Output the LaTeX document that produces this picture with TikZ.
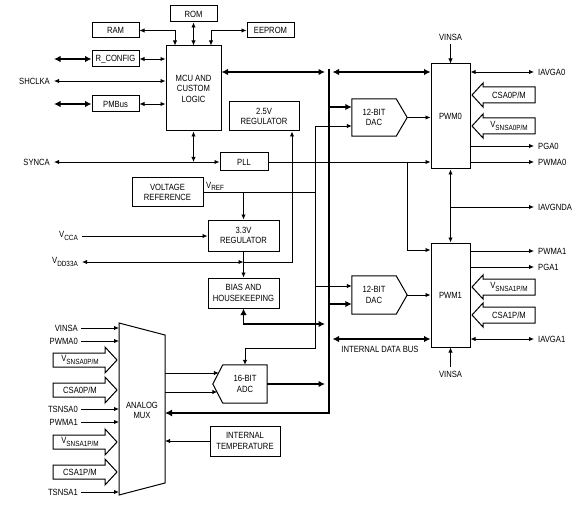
\documentclass[tikz,border=0pt]{standalone}
\usepackage{fontspec}
\setmainfont{Liberation Sans}[FakeStretch=0.85]
\usetikzlibrary{arrows.meta,calc}
\newcommand\dfont{\fontsize{9pt}{10.5pt}\selectfont}
\newcommand\sbs[1]{\raisebox{-0.45ex}{\fontsize{7.5pt}{8pt}\selectfont #1}}
\tikzset{
  x=1pt,y=-1pt,
  thinl/.style={line width=0.9pt},
  thickl/.style={line width=1.8pt},
  ar/.style={thinl,-{Latex[length=5pt,width=4.5pt]}},
  dar/.style={thinl,{Latex[length=5pt,width=4.5pt]}-{Latex[length=5pt,width=4.5pt]}},
  tar/.style={thickl,-{Latex[length=6.5pt,width=6.5pt]}},
  tdar/.style={thickl,{Latex[length=6.5pt,width=6.5pt]}-{Latex[length=6.5pt,width=6.5pt]}},
  box/.style={draw,line width=1pt,inner sep=0pt,align=center,font=\dfont},
  lbl/.style={inner sep=0pt,font=\dfont,align=center},
}
\newcommand\hollowL[3]{%
  \draw[line width=1pt,fill=white] (535,#1-8) -- (483,#1-8) -- (483,#1-12) -- (472,#1) -- (483,#1+12) -- (483,#1+8) -- (535,#1+8) -- cycle;
  \node[lbl] (#2) at (509,#1) {#3};}
\newcommand\hollowR[3]{%
  \draw[line width=1pt,fill=white] (53,#1-7) -- (105,#1-7) -- (105,#1-13) -- (117,#1) -- (105,#1+13) -- (105,#1+7) -- (53,#1+7) -- cycle;
  \node[lbl] (#2) at (80,#1) {#3};}
\begin{document}
\begin{tikzpicture}
\useasboundingbox (0,0) rectangle (586,505);
% ---------- boxes ----------
\node[box,minimum width=47pt,minimum height=16pt] (rom) at (193.5,14) {ROM};
\node[box,minimum width=47pt,minimum height=15pt] (ram) at (115.5,30.5) {RAM};
\node[box,minimum width=47pt,minimum height=15pt] (eeprom) at (270.5,30.5) {EEPROM};
\node[box,minimum width=47pt,minimum height=16pt] (rcfg) at (115.5,59) {R\_CONFIG};
\node[box,minimum width=47pt,minimum height=16pt] (pmbus) at (115.5,104) {PMBus};
\node[box,minimum width=55pt,minimum height=85pt] (mcu) at (193.5,88.5) {MCU AND\\CUSTOM\\LOGIC};
\node[box,minimum width=70pt,minimum height=29pt] (reg25) at (264,116.5) {2.5V\\REGULATOR};
\node[box,minimum width=48pt,minimum height=18pt] (pll) at (244,162) {PLL};
\node[box,minimum width=71pt,minimum height=29pt] (vref) at (167.5,192.5) {VOLTAGE\\REFERENCE};
\node[box,minimum width=71pt,minimum height=31pt] (reg33) at (243.5,235.5) {3.3V\\REGULATOR};
\node[box,minimum width=71pt,minimum height=30pt] (bias) at (243.5,293) {BIAS AND\\HOUSEKEEPING};
\node[box,minimum width=70pt,minimum height=30pt] (temp) at (245,441) {INTERNAL\\TEMPERATURE};
\node[box,minimum width=39pt,minimum height=105pt] (pwm0) at (450.5,116.5) {PWM0};
\node[box,minimum width=39pt,minimum height=104pt] (pwm1) at (450.5,295) {PWM1};
% DACs and ADC
\node[lbl,minimum width=44pt,minimum height=37pt] (dac0) at (374,117.5) {12-BIT\\DAC};
\draw[line width=1pt] (dac0.north west) -- (dac0.north east) -- ($(dac0.east)+(11,0)$) coordinate (dac0tip) -- (dac0.south east) -- (dac0.south west) -- cycle;
\node[lbl,minimum width=44pt,minimum height=38pt] (dac1) at (374,295) {12-BIT\\DAC};
\draw[line width=1pt] (dac1.north west) -- (dac1.north east) -- ($(dac1.east)+(11,0)$) coordinate (dac1tip) -- (dac1.south east) -- (dac1.south west) -- cycle;
\node[lbl,minimum width=44pt,minimum height=38pt] (adc) at (245,384) {16-BIT\\ADC};
\draw[line width=1pt] (adc.north west) -- (adc.north east) -- (adc.south east) -- (adc.south west) -- ($(adc.west)+(-10,0)$) coordinate (adcnotch) -- cycle;
% analog mux
\draw[line width=1pt] (119,323) coordinate (muxTL) -- (165,335) coordinate (muxTR) -- (165,483) coordinate (muxBR) -- (119,495) coordinate (muxBL) -- cycle;
\node[lbl] (mux) at (142,410.5) {ANALOG\\MUX};
\coordinate (muxR) at (165,410);
\coordinate (muxL) at (119,410);
% ---------- MCU periphery ----------
\draw[dar] (ram.east) -| (175,0 |- mcu.north);
\draw[dar] (rom.south) -- (mcu.north);
\draw[dar] (eeprom.west) -| (211,0 |- mcu.north);
\coordinate (rcfgL) at (54,59);
\coordinate (pmbL) at (54,104);
\draw[tdar] (rcfgL) -- (rcfg.west);
\draw[dar] (rcfg.east) -- (mcu.west |- rcfg.east);
\node[lbl,anchor=east] (shclka) at (50,81) {SHCLKA};
\draw[dar] ([xshift=4pt]shclka.east) -- (mcu.west |- shclka.east);
\draw[tdar] (pmbL) -- (pmbus.west);
\draw[dar] (pmbus.east) -- (mcu.west |- pmbus.east);
% ---------- bus ----------
\coordinate (busT) at (329,69);
\coordinate (busB) at (329,413);
\draw[line width=2.4pt,-{Latex[length=7pt,width=7pt]}] (busT) -- (busB) -- (muxR |- busB);
\draw[tdar] (mcu.east |- 0,72) -- (325,72);
\draw[tdar] (332.5,72) -- (pwm0.west |- 0,72);
\draw[tar] (330,107) -- (dac0.west |- 0,107);
\draw[tar] (330,304) -- (dac1.west |- 0,304);
\draw[tdar] (332.5,339) -- (pwm1.west |- 0,339);
\node[lbl] (idb) at (380,349) {INTERNAL DATA BUS};
% ---------- clock ----------
\node[lbl,anchor=east] (synca) at (50,162) {SYNCA};
\draw[dar] ([xshift=4pt]synca.east) -- (pll.west);
\draw[dar] (mcu.south) -- (mcu.south |- pll.west);
\draw[ar] (pll.east) -- (pwm0.west |- pll.east);
\draw[ar] (407,162) -- (407,250) -- (pwm1.west |- 0,250);
% ---------- reference ----------
\node[lbl,anchor=south west] (vreflbl) at (206,190.5) {V\sbs{REF}};
\draw[thinl] (vref.east) -- (315,192.5);
\draw[ar] (reg33.north |- vref.east) -- (reg33.north);
\draw[ar] (315,192.5) -- (315,126) -- (dac0.west |- 0,126);
\draw[ar] (315,192.5) -- (315,286) -- (dac1.west |- 0,286);
\draw[ar] (315,286) -- (315,348) -- (adc.north |- 0,348) -- (adc.north);
% ---------- power ----------
\node[lbl,anchor=east] (vcca) at (78,236) {V\sbs{CCA}};
\draw[ar] ([xshift=4pt]vcca.east) -- (reg33.west |- 0,236);
\node[lbl,anchor=east] (vdd) at (78,262) {V\sbs{DD33A}};
\draw[dar] ([xshift=4pt]vdd.east) -- (reg33.south |- 0,262);
\draw[ar] (reg33.south) -- (bias.north);
\draw[ar] (reg33.south |- 0,262) -- (292,262) -- (292,0 |- reg25.south);
\draw[tdar] (bias.south) -- (bias.south |- 0,324) -- (325,324);
% ---------- ADC / MUX ----------
\draw[tar] (adc.east) -- (325,384);
\draw[ar] (muxR |- 0,373) -- (218.8,373);
\draw[ar] (muxR |- 0,392) -- (217.3,392);
\draw[ar] (temp.west) -- (muxR |- temp.west);
\node[lbl,anchor=east] (mvinsa) at (78,328) {VINSA};
\draw[ar] ([xshift=3pt]mvinsa.east) -- (muxL |- mvinsa.east);
\node[lbl,anchor=east] (mpwma0) at (78,341) {PWMA0};
\draw[ar] ([xshift=3pt]mpwma0.east) -- (muxL |- mpwma0.east);
\node[lbl,anchor=east] (mtsnsa0) at (78,409) {TSNSA0};
\draw[ar] ([xshift=3pt]mtsnsa0.east) -- (muxL |- mtsnsa0.east);
\node[lbl,anchor=east] (mpwma1) at (78,422) {PWMA1};
\draw[ar] ([xshift=3pt]mpwma1.east) -- (muxL |- mpwma1.east);
\node[lbl,anchor=east] (mtsnsa1) at (78,492) {TSNSA1};
\draw[ar] ([xshift=3pt]mtsnsa1.east) -- (muxL |- mtsnsa1.east);
\hollowR{360}{mvs0}{V\sbs{SNSA0P/M}}
\hollowR{390}{mcs0}{CSA0P/M}
\hollowR{442}{mvs1}{V\sbs{SNSA1P/M}}
\hollowR{472}{mcs1}{CSA1P/M}
% ---------- PWM periphery ----------
\draw[ar] (dac0tip) -- (pwm0.west |- dac0tip);
\draw[ar] (dac1tip) -- (pwm1.west |- dac1tip);
\node[lbl] (vinsa0) at (450.5,37) {VINSA};
\draw[ar] ([yshift=-4pt]vinsa0.south) -- (pwm0.north);
\node[lbl] (vinsa1) at (450.5,374) {VINSA};
\draw[ar] ([yshift=4pt]vinsa1.north) -- (pwm1.south);
\draw[dar] (pwm0.south) -- (pwm1.north);
\node[lbl,anchor=west] (iavga0) at (538,72) {IAVGA0};
\draw[dar] (pwm0.east |- iavga0.west) -- ([xshift=-4pt]iavga0.west);
\node[lbl,anchor=west] (pga0) at (538,146) {PGA0};
\draw[ar] (pwm0.east |- pga0.west) -- ([xshift=-4pt]pga0.west);
\node[lbl,anchor=west] (pwma0) at (538,162) {PWMA0};
\draw[ar] (pwm0.east |- pwma0.west) -- ([xshift=-4pt]pwma0.west);
\node[lbl,anchor=west] (iavgnda) at (538,207) {IAVGNDA};
\draw[ar] (pwm0.south |- iavgnda.west) -- ([xshift=-4pt]iavgnda.west);
\node[lbl,anchor=west] (pwma1) at (538,251) {PWMA1};
\draw[ar] (pwm1.east |- pwma1.west) -- ([xshift=-4pt]pwma1.west);
\node[lbl,anchor=west] (pga1) at (538,267) {PGA1};
\draw[ar] (pwm1.east |- pga1.west) -- ([xshift=-4pt]pga1.west);
\node[lbl,anchor=west] (iavga1) at (538,339) {IAVGA1};
\draw[dar] (pwm1.east |- iavga1.west) -- ([xshift=-4pt]iavga1.west);
\hollowL{95}{pcs0}{CSA0P/M}
\hollowL{126}{pvs0}{V\sbs{SNSA0P/M}}
\hollowL{287}{pvs1}{V\sbs{SNSA1P/M}}
\hollowL{315}{pcs1}{CSA1P/M}
\end{tikzpicture}
\end{document}
